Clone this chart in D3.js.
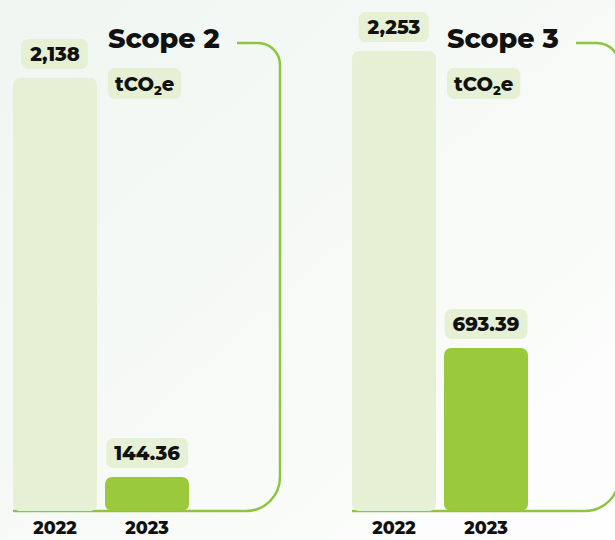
<!DOCTYPE html>
<html>
<head>
<meta charset="utf-8">
<script src="https://cdn.jsdelivr.net/npm/d3@7"></script>
<style>
  html, body { margin: 0; padding: 0; }
  svg { display: block; font-family: Montserrat, Inter, "Open Sans", sans-serif; font-weight: 800; }
</style>
</head>
<body>
<script>
// data
var scopes = ["Scope 2", "Scope 3"];
var years = ["2022", "2023"];
var scope2Values = [2138, 144.36];
var scope3Values = [2253, 693.39];
var valueLabels = [["2,138", "144.36"], ["2,253", "693.39"]];
var unitLabel = "tCO";

var width = 615, height = 540;
var baseline = 511;
var barW = 84, barGap = 8;
var panelX = [13, 352];
// the 2022 bar top of each panel; the designer stretched the 2023 bars a bit,
// so each panel gets its own domain floor
var panelTop = [78, 51];
var yFloor = [-26, -163];

var lightGreen = "#e6f0d5", green = "#9aca3c", lineGreen = "#8cc63f";

var svg = d3.select("body").append("svg")
  .attr("width", width).attr("height", height);

var defs = svg.append("defs");
var grad = defs.append("linearGradient").attr("id", "bg")
  .attr("x1", "0").attr("y1", "0").attr("x2", "1").attr("y2", "1");
grad.append("stop").attr("offset", "0").attr("stop-color", "#eff6f1");
grad.append("stop").attr("offset", "0.55").attr("stop-color", "#f7faf7");
grad.append("stop").attr("offset", "1").attr("stop-color", "#fefefe");
svg.append("rect").attr("width", width).attr("height", height).attr("fill", "url(#bg)");

var allValues = [scope2Values, scope3Values];

scopes.forEach(function(scope, i) {
  var values = allValues[i];
  var g = svg.append("g").attr("transform", "translate(" + panelX[i] + ",0)");

  var x = d3.scaleBand().domain(years)
    .range([0, barW * 2 + barGap]).paddingInner(barGap / (barW + barGap));
  var y = d3.scaleLinear().domain([yFloor[i], values[0]]).range([baseline, panelTop[i]]);

  var data = years.map(function(yr, j) {
    return { year: yr, value: values[j], label: valueLabels[i][j] };
  });

  // bracket line: top stub, right side, baseline
  var right = x.range()[1] + 91, topY = 43, rTop = 22, rBot = 34;
  var p = d3.path();
  p.moveTo(224, topY);
  p.lineTo(right - rTop, topY);
  p.arcTo(right, topY, right, topY + rTop, rTop);
  p.lineTo(right, baseline - rBot);
  p.arcTo(right, baseline, right - rBot, baseline, rBot);
  p.lineTo(0, baseline);
  g.append("path").attr("d", p.toString())
    .attr("fill", "none").attr("stroke", lineGreen).attr("stroke-width", 2.5);

  g.selectAll("rect.bar").data(data).enter().append("rect")
    .attr("class", "bar")
    .attr("x", function(d) { return x(d.year); })
    .attr("y", function(d) { return y(d.value); })
    .attr("width", x.bandwidth())
    .attr("height", function(d) { return baseline - y(d.value); })
    .attr("rx", 7)
    .attr("fill", function(d, j) { return j === 0 ? lightGreen : green; });

  // value labels in pill boxes
  var lab = g.selectAll("g.val").data(data).enter().append("g").attr("class", "val");
  lab.append("text")
    .attr("x", function(d) { return x(d.year) + x.bandwidth() / 2; })
    .attr("y", function(d) { return y(d.value) - 17; })
    .attr("text-anchor", "middle")
    .attr("font-size", 19.5)
    .attr("fill", "#111")
    .text(function(d) { return d.label; });
  lab.each(function() {
    var t = d3.select(this).select("text");
    var bb = t.node().getBBox();
    d3.select(this).insert("rect", "text")
      .attr("x", bb.x - 8).attr("width", bb.width + 16)
      .attr("y", +t.attr("y") - 22).attr("height", 30)
      .attr("rx", 7).attr("fill", lightGreen);
  });

  // title
  var tx = x("2023") + 3;
  g.append("text").attr("x", tx).attr("y", 48)
    .attr("font-size", 27).attr("fill", "#111").text(scope);
  // subtitle pill
  var unit = g.append("text").attr("x", tx + 7).attr("y", 91)
    .attr("font-size", 19.5).attr("fill", "#111");
  unit.append("tspan").text(unitLabel);
  unit.append("tspan").attr("font-size", 13).attr("dy", 4).text("2");
  unit.append("tspan").attr("dy", -4).text("e");
  var ub = unit.node().getBBox();
  g.insert("rect", function() { return unit.node(); })
    .attr("x", tx).attr("y", 68).attr("width", ub.width + 14).attr("height", 31)
    .attr("rx", 7).attr("fill", lightGreen);

  // year labels
  g.selectAll("text.year").data(years).enter().append("text")
    .attr("class", "year")
    .attr("x", function(d) { return x(d) + x.bandwidth() / 2; })
    .attr("y", 534)
    .attr("text-anchor", "middle")
    .attr("font-size", 17.5).attr("fill", "#111")
    .text(function(d) { return d; });
});
</script>
</body>
</html>
